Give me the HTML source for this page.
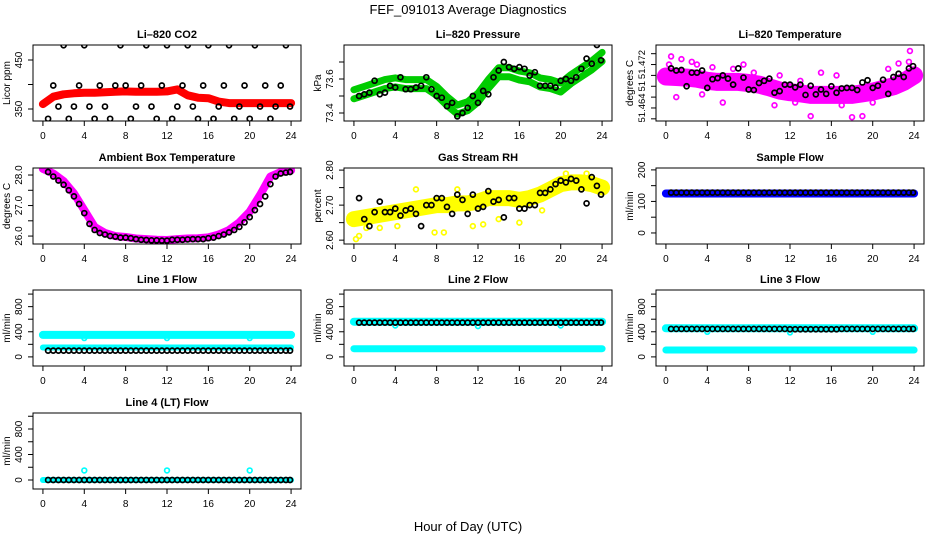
<!DOCTYPE html>
<html><head><meta charset="utf-8"><style>
html,body{margin:0;padding:0;background:#fff;}
svg{display:block;font-family:"Liberation Sans",sans-serif;}
</style></head><body>
<svg id="chart" width="936" height="540" viewBox="0 0 936 540">
<rect width="936" height="540" fill="#fff"/>
<text x="468" y="14" text-anchor="middle" font-size="13">FEF_091013  Average Diagnostics</text>
<text x="468" y="531" text-anchor="middle" font-size="13">Hour of Day (UTC)</text>
</svg>
<script>
const blackHours = [0.5,1,1.5,2,2.5,3,3.5,4,4.5,5,5.5,6,6.5,7,7.5,8,8.5,9,9.5,10,10.5,11,11.5,12,12.5,13,13.5,14,14.5,15,15.5,16,16.5,17,17.5,18,18.5,19,19.5,20,20.5,21,21.5,22,22.5,23,23.5,23.9];
const bandHours = [0,1,2,3,4,5,6,7,8,9,10,11,12,13,14,15,16,17,18,19,20,21,22,23,24];
const xTicks = [0,4,8,12,16,20,24];

const co2Black = [330,398,355,480,330,355,398,480,355,330,398,355,330,398,480,398,330,355,398,480,355,330,398,480,330,355,398,480,355,330,398,480,330,355,398,480,330,355,398,330,480,355,398,330,355,398,480,355];
const co2Band = [360,375,380,382,383,383,384,385,386,385,385,385,386,390,378,373,372,365,362,362,362,362,362,362,362];

const presBand = [73.51,73.53,73.55,73.57,73.58,73.57,73.57,73.57,73.53,73.47,73.42,73.44,73.49,73.57,73.64,73.64,73.62,73.61,73.58,73.57,73.55,73.60,73.64,73.68,73.73];
const presBlack = [73.50,73.51,73.52,73.59,73.51,73.52,73.56,73.55,73.61,73.54,73.54,73.55,73.56,73.61,73.54,73.50,73.49,73.44,73.46,73.38,73.40,73.43,73.50,73.46,73.53,73.51,73.61,73.65,73.70,73.67,73.66,73.67,73.66,73.62,73.64,73.56,73.56,73.56,73.55,73.59,73.60,73.59,73.61,73.66,73.72,73.69,73.80,73.71];

const tempBand = [51.4698,51.4697,51.4696,51.4694,51.4690,51.4688,51.4688,51.4688,51.4686,51.4683,51.4678,51.4672,51.4669,51.4667,51.4664,51.4664,51.4664,51.4664,51.4664,51.4667,51.4670,51.4675,51.4680,51.4688,51.4700];
const tempBlack = [51.4713,51.4709,51.4710,51.4680,51.4705,51.4705,51.4709,51.4677,51.4693,51.4695,51.4700,51.4694,51.4683,51.4713,51.4696,51.4674,51.4673,51.4686,51.4690,51.4694,51.4668,51.4671,51.4683,51.4683,51.4678,51.4683,51.4664,51.4681,51.4665,51.4674,51.4666,51.4680,51.4668,51.4676,51.4677,51.4677,51.4673,51.4687,51.4691,51.4677,51.4681,51.4692,51.4666,51.4697,51.4703,51.4697,51.4713,51.4717];
const tempOutX = [0.5,1.5,2.5,3,0.3,4.5,7.5,9.5,15,19,21.5,22.5,23.6,23.5,14,18,10.5,8.5,5.5,12.5,1,3.5,6.5,11,13,16.5,20,17];
const tempOutY = [51.4735,51.4730,51.4725,51.4720,51.4720,51.4715,51.4720,51.4685,51.4705,51.4625,51.4712,51.4722,51.4745,51.4725,51.4625,51.4623,51.4645,51.4705,51.4650,51.4650,51.4660,51.4665,51.4712,51.4700,51.4690,51.4700,51.4650,51.4645];

const ambBand = [28.2,28.05,27.8,27.4,26.85,26.3,26.1,26.0,25.97,25.92,25.9,25.88,25.87,25.9,25.92,25.93,25.96,26.05,26.2,26.45,26.8,27.35,27.95,28.1,28.15];
const ambBlack = [28.1,27.95,27.82,27.68,27.5,27.3,27.05,26.75,26.4,26.2,26.1,26.05,26.0,25.98,25.95,25.95,25.93,25.9,25.88,25.87,25.86,25.86,25.85,25.85,25.88,25.88,25.88,25.89,25.9,25.9,25.9,25.93,25.95,26.0,26.05,26.12,26.2,26.3,26.45,26.62,26.85,27.05,27.3,27.7,27.95,28.05,28.08,28.1];

const rhBand = [2.66,2.665,2.67,2.675,2.68,2.685,2.69,2.695,2.70,2.70,2.705,2.705,2.71,2.72,2.72,2.72,2.715,2.72,2.73,2.745,2.76,2.765,2.765,2.76,2.75];
const rhBlack = [2.72,2.66,2.64,2.68,2.71,2.68,2.68,2.69,2.67,2.685,2.69,2.675,2.64,2.70,2.70,2.72,2.72,2.695,2.675,2.73,2.715,2.675,2.73,2.69,2.695,2.74,2.71,2.715,2.665,2.72,2.72,2.69,2.69,2.70,2.70,2.735,2.735,2.745,2.76,2.77,2.765,2.775,2.77,2.745,2.705,2.78,2.755,2.73];
const rhOutX = [0.2,0.5,1.2,4.2,7.8,8.7,11.5,12.5,14,16,18.2,22.5,2.5,6,10,20.5];
const rhOutY = [2.603,2.612,2.635,2.640,2.622,2.622,2.640,2.645,2.660,2.650,2.685,2.790,2.635,2.745,2.745,2.790];

const sampleBand = [125,125,125,125,125,125,125,125,125,125,125,125,125,125,125,125,125,125,125,125,125,125,125,125,125];
const sampleBlack = [128,128,128,128,128,128,128,128,128,128,128,128,128,128,128,128,128,128,128,128,128,128,128,128,128,128,128,128,128,128,128,128,128,128,128,128,128,128,128,128,128,128,128,128,128,128,128,128];

const line1High = [350,350,350,350,350,350,350,350,350,350,350,350,350,350,350,350,350,350,350,350,350,350,350,350,350];
const line1Low = [150,150,150,150,150,150,150,150,150,150,150,150,150,150,150,150,150,150,150,150,150,150,150,150,150];
const line1Black = [100,100,100,100,100,100,100,100,100,100,100,100,100,100,100,100,100,100,100,100,100,100,100,100,100,100,100,100,100,100,100,100,100,100,100,100,100,100,100,100,100,100,100,100,100,100,100,100];
const line1OutX = [4,12,20];
const line1OutY = [300,300,300];

const line2High = [560,560,560,560,560,560,560,560,560,560,560,560,560,560,560,560,560,560,560,560,560,560,560,560,560];
const line2Low = [130,130,130,130,130,130,130,130,130,130,130,130,130,130,130,130,130,130,130,130,130,130,130,130,130];
const line2Black = [545,545,545,545,545,545,545,545,545,545,545,545,545,545,545,545,545,545,545,545,545,545,545,545,545,545,545,545,545,545,545,545,545,545,545,545,545,545,545,545,545,545,545,545,545,545,545,545];
const line2OutX = [4,12,20];
const line2OutY = [500,490,500];

const line3High = [455,455,455,455,455,455,455,455,455,455,455,455,455,455,455,455,455,455,455,455,455,455,455,455,455];
const line3Low = [110,110,110,110,110,110,110,110,110,110,110,110,110,110,110,110,110,110,110,110,110,110,110,110,110];
const line3Black = [445,445,445,445,445,445,445,445,445,445,445,445,445,445,445,445,445,445,445,445,445,445,445,440,440,440,440,440,440,440,440,440,440,445,445,445,445,445,445,445,445,445,445,445,445,445,445,445];
const line3OutX = [4,12,20];
const line3OutY = [400,390,400];

const line4Band = [0,0,0,0,0,0,0,0,0,0,0,0,0,0,0,0,0,0,0,0,0,0,0,0,0];
const line4Black = [0,0,0,0,0,0,0,0,0,0,0,0,0,0,0,0,0,0,0,0,0,0,0,0,0,0,0,0,0,0,0,0,0,0,0,0,0,0,0,0,0,0,0,0,0,0,0,0];
const line4OutX = [4,12,20];
const line4OutY = [150,150,150];

const flowTicks = [0,200,400,600,800,1000];
const flowLabels = ['0','','400','','800',''];

const NS = 'http://www.w3.org/2000/svg';
const svg = document.getElementById('chart');
const colLeft = [33,344,656];
const rowTop = [45,168,290,413];
const PW = 268, PH = 76;

function mk(tag, attrs, parent){
  const e = document.createElementNS(NS, tag);
  for (const k in attrs) e.setAttribute(k, attrs[k]);
  (parent||svg).appendChild(e);
  return e;
}

function panel(p){
  const L = colLeft[p.col], T = rowTop[p.row];
  const g = mk('g', {});
  
  
  const xs = h => L + (h + 0.96) / 25.92 * PW;
  const ys = v => T + PH - (v - p.ymin) / (p.ymax - p.ymin) * PH;
  const clipId = 'clip-' + p.name;
  const cp = mk('clipPath', {id: clipId}, g);
  mk('rect', {x: L, y: T, width: PW, height: PH}, cp);
  const marks = mk('g', {'clip-path': 'url(#' + clipId + ')'}, g);
  
  
  (p.bands || []).forEach(b => {
    const pts = bandHours.map((h, i) => xs(h).toFixed(1) + ',' + (ys(b.vals[i]) + (b.off || 0)).toFixed(1)).join(' ');
    const pl = mk('polyline', {points: pts, fill: 'none', stroke: b.color, 'stroke-width': b.w, 'stroke-linejoin': 'round', 'stroke-linecap': 'round'}, marks);
    
    
  });
  (p.outs || []).forEach(o => {
    o.x.forEach((h, i) => {
      const c = mk('circle', {cx: xs(h), cy: ys(o.y[i]), r: 2.4, fill: 'none', stroke: o.color, 'stroke-width': 1.7}, marks);
      
      
    });
  });
  blackHours.forEach((h, i) => {
    const c = mk('circle', {cx: xs(h), cy: ys(p.black[i]), r: 2.5, fill: 'none', stroke: '#000', 'stroke-width': 1.7}, marks);
    
    
  });
  const frame = mk('rect', {x: L, y: T, width: PW, height: PH, fill: 'none', stroke: '#000', 'stroke-width': 1}, g);
  
  
  const xa = mk('g', {}, g);
  
  
  mk('line', {x1: xs(xTicks[0]), x2: xs(xTicks[xTicks.length-1]), y1: T+PH, y2: T+PH, stroke: '#000'}, xa);
  xTicks.forEach(t => {
    mk('line', {x1: xs(t), x2: xs(t), y1: T+PH, y2: T+PH+5, stroke: '#000'}, xa);
    const tx = mk('text', {x: xs(t), y: T+PH+18, 'text-anchor': 'middle', 'font-size': 10}, xa);
    tx.textContent = t;
  });
  const ya = mk('g', {}, g);
  
  
  p.yt.forEach((t, i) => {
    const y = ys(t);
    if (y < T - 0.5 || y > T + PH + 0.5) return;
    mk('line', {x1: L-5, x2: L, y1: y, y2: y, stroke: '#000'}, ya);
    if (p.yl[i]) {
      const tx = mk('text', {x: 0, y: 0, 'text-anchor': 'middle', 'font-size': p.tfs || 10, transform: 'translate(' + (L-11) + ',' + y + ') rotate(-90)'}, ya);
      tx.textContent = p.yl[i];
    }
  });
  const yl = mk('text', {x: 0, y: 0, 'text-anchor': 'middle', 'font-size': 10, transform: 'translate(' + (L-23) + ',' + (T+PH/2) + ') rotate(-90)'}, g);
  
  
  yl.textContent = p.ylab;
  const tt = mk('text', {x: L+PW/2, y: T-7, 'text-anchor': 'middle', 'font-size': 11, 'font-weight': 'bold'}, g);
  
  
  tt.textContent = p.title;
}

panel({name:'co2', col:0, row:0, title:'Li\u2013820 CO2', ylab:'Licor ppm', ymin:325.5, ymax:480.6,
  yt:[350,400,450], yl:['350','','450'], black:co2Black,
  bands:[{vals:co2Band, color:'#ff0000', w:8}]});
panel({name:'pressure', col:1, row:0, title:'Li\u2013820 Pressure', ylab:'kPa', ymin:73.353, ymax:73.80,
  yt:[73.4,73.5,73.6,73.7], yl:['73.4','','73.6',''], black:presBlack,
  bands:[{vals:presBand, color:'#00cc00', w:7, off:-4.5},{vals:presBand, color:'#00cc00', w:7, off:4.5}]});
panel({name:'temperature', col:2, row:0, title:'Li\u2013820 Temperature', ylab:'degrees C', ymin:51.4616, ymax:51.4756, tfs:9.5,
  yt:[51.462,51.464,51.466,51.468,51.470,51.472,51.474], yl:['','51.464','','51','','51.472',''], black:tempBlack,
  bands:[{vals:tempBand, color:'#ff00ff', w:18}], outs:[{x:tempOutX, y:tempOutY, color:'#ff00ff'}]});
panel({name:'ambient-temp', col:0, row:1, title:'Ambient Box Temperature', ylab:'degrees C', ymin:25.74, ymax:28.23,
  yt:[26,26.5,27,27.5,28], yl:['26.0','','27.0','','28.0'], black:ambBlack,
  bands:[{vals:ambBand, color:'#ff00ff', w:8}]});
panel({name:'gas-rh', col:1, row:1, title:'Gas Stream RH', ylab:'percent', ymin:2.589, ymax:2.806,
  yt:[2.6,2.65,2.7,2.75,2.8], yl:['2.60','','2.70','','2.80'], black:rhBlack,
  bands:[{vals:rhBand, color:'#ffff00', w:16}], outs:[{x:rhOutX, y:rhOutY, color:'#ffff00'}]});
panel({name:'sample-flow', col:2, row:1, title:'Sample Flow', ylab:'ml/min', ymin:-35, ymax:206,
  yt:[0,50,100,150,200], yl:['0','','100','','200'], black:sampleBlack,
  bands:[{vals:sampleBand, color:'#0000ff', w:8}]});
panel({name:'line1-flow', col:0, row:2, title:'Line 1 Flow', ylab:'ml/min', ymin:-145, ymax:1065,
  yt:flowTicks, yl:flowLabels, black:line1Black,
  bands:[{vals:line1High, color:'#00ffff', w:8},{vals:line1Low, color:'#00ffff', w:6}],
  outs:[{x:line1OutX, y:line1OutY, color:'#00ffff'}]});
panel({name:'line2-flow', col:1, row:2, title:'Line 2 Flow', ylab:'ml/min', ymin:-145, ymax:1065,
  yt:flowTicks, yl:flowLabels, black:line2Black,
  bands:[{vals:line2High, color:'#00ffff', w:8},{vals:line2Low, color:'#00ffff', w:7}],
  outs:[{x:line2OutX, y:line2OutY, color:'#00ffff'}]});
panel({name:'line3-flow', col:2, row:2, title:'Line 3 Flow', ylab:'ml/min', ymin:-145, ymax:1065,
  yt:flowTicks, yl:flowLabels, black:line3Black,
  bands:[{vals:line3High, color:'#00ffff', w:8},{vals:line3Low, color:'#00ffff', w:7}],
  outs:[{x:line3OutX, y:line3OutY, color:'#00ffff'}]});
panel({name:'line4-flow', col:0, row:3, title:'Line 4 (LT) Flow', ylab:'ml/min', ymin:-141, ymax:1051,
  yt:flowTicks, yl:flowLabels, black:line4Black,
  bands:[{vals:line4Band, color:'#00ffff', w:6}],
  outs:[{x:line4OutX, y:line4OutY, color:'#00ffff'}]});
</script>
</body></html>
